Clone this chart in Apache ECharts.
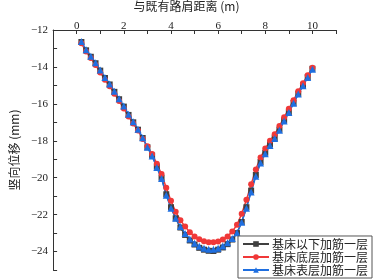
<!DOCTYPE html>
<html>
<head>
<meta charset="utf-8">
<script src="https://cdn.jsdelivr.net/npm/echarts@6/dist/echarts.min.js"></script>
<style>
  html, body { margin: 0; padding: 0; background: #fff; }
  #main { width: 373px; height: 279px; }
</style>
</head>
<body>
<div id="main"></div>
<script>
// 与既有路肩距离 (m)
const xs = [0.2, 0.4, 0.6, 0.8, 1.0, 1.2, 1.4, 1.6, 1.8, 2.0,
  2.2, 2.4, 2.6, 2.8, 3.0, 3.2, 3.4, 3.6, 3.8, 4.0,
  4.2, 4.4, 4.6, 4.8, 5.0, 5.2, 5.4, 5.6, 5.8, 6.0,
  6.2, 6.4, 6.6, 6.8, 7.0, 7.2, 7.4, 7.6, 7.8, 8.0,
  8.2, 8.4, 8.6, 8.8, 9.0, 9.2, 9.4, 9.6, 9.8, 10.0]

// 竖向位移 (mm)
const below = [-12.65, -13.1, -13.45, -13.8, -14.2, -14.6, -14.95, -15.35, -15.75, -16.15,
  -16.6, -17.0, -17.4, -17.85, -18.35, -18.8, -19.4, -20.0, -20.9, -21.6,
  -22.2, -22.7, -23.1, -23.4, -23.62, -23.8, -23.9, -23.96, -23.97, -23.9,
  -23.78, -23.6, -23.35, -23.0, -22.4, -21.6, -20.7, -19.85, -19.15, -18.65,
  -18.2, -17.85, -17.4, -16.9, -16.45, -15.95, -15.45, -15.0, -14.55, -14.1]
const bottom = [-12.72, -13.17, -13.52, -13.9, -14.3, -14.7, -15.05, -15.45, -15.85, -16.25,
  -16.68, -17.07, -17.45, -17.9, -18.3, -18.72, -19.25, -19.8, -20.55, -21.25,
  -21.85, -22.3, -22.65, -22.95, -23.18, -23.34, -23.44, -23.5, -23.5, -23.45,
  -23.35, -23.18, -22.92, -22.55, -21.95, -21.2, -20.35, -19.55, -18.9, -18.42,
  -18.0, -17.65, -17.2, -16.72, -16.27, -15.8, -15.32, -14.88, -14.45, -14.05]
const surface = [-12.62, -13.07, -13.42, -13.77, -14.17, -14.57, -14.92, -15.32, -15.72, -16.12,
  -16.57, -16.97, -17.37, -17.83, -18.35, -18.82, -19.45, -20.05, -20.95, -21.65,
  -22.2, -22.65, -23.02, -23.32, -23.55, -23.72, -23.82, -23.87, -23.88, -23.82,
  -23.7, -23.52, -23.3, -22.98, -22.42, -21.65, -20.78, -19.92, -19.2, -18.7,
  -18.25, -17.88, -17.43, -16.93, -16.47, -15.97, -15.47, -15.02, -14.57, -14.12]

const names = ['基床以下加筋一层', '基床底层加筋一层', '基床表层加筋一层']
const colors = ['#404040', '#f03838', '#1f6fe0']

const pairs = (ys) => xs.map((x, i) => [x, ys[i]])

const chart = echarts.init(document.getElementById('main'))
const tickFont = { fontFamily: 'Liberation Serif', fontSize: 11, color: '#222' }

const mkSeries = (name, data, symbol, color, size) => ({
  name: name,
  type: 'line',
  data: data,
  symbol: symbol,
  symbolSize: size,
  showAllSymbol: true,
  lineStyle: { width: 1.5, color: color },
  itemStyle: { color: color },
  animation: false
})

chart.setOption({
  animation: false,
  color: colors,
  title: {
    text: '与既有路肩距离 (m)',
    left: 'center',
    top: 0,
    padding: 0,
    textStyle: { fontFamily: 'Noto Sans CJK SC', fontSize: 12, fontWeight: 'normal', color: '#222' }
  },
  grid: { left: 36, right: 37, top: 30, bottom: 9 },
  xAxis: {
    type: 'value',
    position: 'top',
    min: -1,
    max: 11,
    interval: 1,
    splitLine: { show: false },
    axisLine: { onZero: false, lineStyle: { color: '#333', width: 1 } },
    axisTick: { inside: true, length: 4, lineStyle: { color: '#333' } },
    axisLabel: Object.assign({
      margin: -2,
      formatter: (v) => (v >= 0 && v % 2 === 0 ? String(v) : '')
    }, tickFont)
  },
  yAxis: {
    type: 'value',
    min: -25,
    max: -12,
    interval: 1,
    name: '竖向位移 (mm)',
    nameLocation: 'middle',
    nameGap: 29,
    nameRotate: 90,
    nameTextStyle: { fontFamily: 'Noto Sans CJK SC', fontSize: 12, color: '#222' },
    splitLine: { show: false },
    axisLine: { show: true, onZero: false, lineStyle: { color: '#333', width: 1 } },
    axisTick: { inside: true, length: 4, lineStyle: { color: '#333' } },
    axisLabel: Object.assign({
      margin: 5,
      formatter: (v) => (v % 2 === 0 ? String(v).replace('-', '−') : '')
    }, tickFont)
  },
  legend: {
    orient: 'vertical',
    right: 1,
    bottom: 1,
    padding: [2, 4, 2, 4],
    itemGap: 1,
    itemWidth: 26,
    itemHeight: 7,
    borderColor: '#555',
    borderWidth: 1,
    backgroundColor: '#fff',
    textStyle: { fontFamily: 'Noto Sans CJK SC', fontSize: 12, color: '#222', padding: [0, 0, 0, -2] },
    data: names
  },
  series: [
    mkSeries(names[0], pairs(below), 'rect', colors[0], 6),
    mkSeries(names[1], pairs(bottom), 'circle', colors[1], 6),
    mkSeries(names[2], pairs(surface), 'triangle', colors[2], 7)
  ]
})
</script>
</body>
</html>
